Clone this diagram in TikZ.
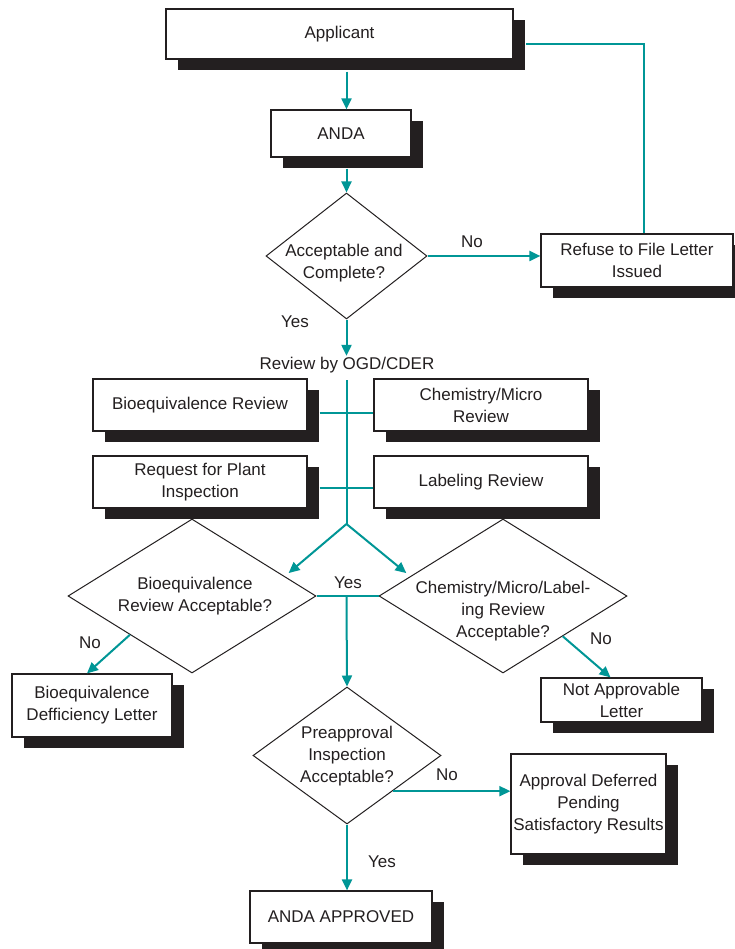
\documentclass[tikz,border=0pt]{standalone}
\usepackage{fontspec}
\setmainfont{Liberation Sans}
\usetikzlibrary{shapes.geometric,arrows.meta,shadows,calc}
\definecolor{flowteal}{RGB}{0,150,150}
\definecolor{ink}{RGB}{35,31,32}
\begin{document}
\begin{tikzpicture}[x=1pt,y=-1pt,every node/.style={font=\fontsize{17}{22}\selectfont,text=ink},
  box/.style={draw=ink,line width=1.2pt,fill=white,align=center,inner sep=0pt,drop shadow={shadow xshift=12pt,shadow yshift=-11pt,fill=ink,opacity=1}},
  decide/.style={draw=ink,line width=1pt,diamond,inner sep=0pt},
  flow/.style={flowteal,line width=2pt,-{Triangle[length=11pt,width=10pt]}},
  link/.style={flowteal,line width=2pt}]
\path[use as bounding box,fill=white] (0,0) rectangle (735,949);
\coordinate (axis) at (346.5,0);
\coordinate (fork) at (346.5,524);
\node[box,minimum width=347pt,minimum height=50pt] (applicant) at (339.5,34) {Applicant};
\node[box,minimum width=140pt,minimum height=47pt] (anda) at (341,133.5) {ANDA};
\node[decide,minimum width=161pt,minimum height=126pt] (accept) at (346.5,256) {};
\node[align=center] (acceptT) at (344,263) {Acceptable and\\Complete?};
\node[box,minimum width=192pt,minimum height=53pt] (refuse) at (637,260.5) {Refuse to File Letter\\Issued};
\node[inner sep=1pt] (review) at (347,365) {Review by OGD/CDER};
\node[box,minimum width=214pt,minimum height=52pt] (bioreview) at (200,405) {Bioequivalence Review};
\node[box,minimum width=214pt,minimum height=52pt] (chemreview) at (481,405) {Chemistry/Micro\\Review};
\node[box,minimum width=214pt,minimum height=52pt] (plantreq) at (200,482) {Request for Plant\\Inspection};
\node[box,minimum width=214pt,minimum height=52pt] (labelreview) at (481,482) {Labeling Review};
\node[decide,minimum width=248pt,minimum height=154pt] (bioacc) at (192,596) {};
\node[align=center] (bioaccT) at (195,596) {Bioequivalence\\Review Acceptable?};
\node[decide,minimum width=248pt,minimum height=154pt] (chemacc) at (503,596) {};
\node[align=center] (chemaccT) at (503,611) {Chemistry/Micro/Label-\\ing Review\\Acceptable?};
\node[box,minimum width=160pt,minimum height=63pt] (biodef) at (92,705.5) {Bioequivalence\\Defficiency Letter};
\node[box,minimum width=161pt,minimum height=44pt] (notappr) at (621.5,700) {Not Approvable\\Letter};
\node[decide,minimum width=188pt,minimum height=137pt] (preacc) at (347,755.5) {};
\node[align=center] (preaccT) at (347,756) {Preapproval\\Inspection\\Acceptable?};
\node[box,minimum width=155pt,minimum height=100pt] (deferred) at (588.5,804) {Approval Deferred\\Pending\\Satisfactory Results};
\node[box,minimum width=182pt,minimum height=52pt] (approved) at (341,917) {ANDA APPROVED};
\node (noA) at (472,242) {No};
\node (yesA) at (295,322) {Yes};
\node (yesB) at (348,583) {Yes};
\node (noB) at (90,643) {No};
\node (noC) at (601,639) {No};
\node (noD) at (447,775) {No};
\node (yesC) at (382,862) {Yes};
\draw[flow] ($(applicant.south -| axis)+(0,12)$) -- (anda.north -| axis);
\draw[flow] ($(anda.south -| axis)+(0,11)$) -- (accept.north);
\draw[flow] (accept.east) -- (accept.east -| refuse.west);
\draw[link] ($(refuse.north)+(7,0)$) |- ($(applicant.east)+(12,10)$);
\draw[flow] (accept.south) -- (review.north -| axis);
\draw[link] ($(review.south -| axis)+(0,6)$) -- (fork);
\draw[link] ($(bioreview.east)+(12,8)$) -- ($(chemreview.west)+(0,8)$);
\draw[link] ($(plantreq.east)+(12,6)$) -- ($(labelreview.west)+(0,6)$);
\draw[flow,shorten >=5pt] (fork) -- (bioacc.12);
\draw[flow,shorten >=5pt] (fork) -- (chemacc.168);
\draw[link] (bioacc.east) -- (chemacc.west);
\draw[flow] (bioacc.east -| axis) -- (preacc.north);
\draw[flow] (bioacc.212) -- ($(biodef.north)+(-5,0)$);
\draw[flow] (chemacc.-34) -- ($(notappr.north)+(-11,0)$);
\draw[flow] (preacc.-38) -- (preacc.-38 -| deferred.west);
\draw[flow] (preacc.south) -- (preacc.south |- approved.north);
\end{tikzpicture}
\end{document}
